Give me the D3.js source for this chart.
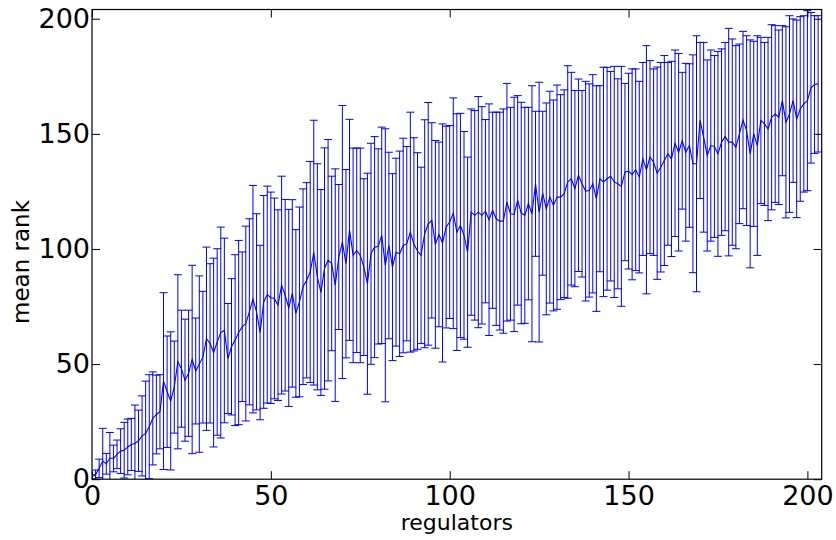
<!DOCTYPE html>
<html>
<head>
<meta charset="utf-8">
<script src="https://cdn.jsdelivr.net/npm/d3@7"></script>
<style>
  body { margin: 0; background: #fff; }
  svg { display: block; font-family: "DejaVu Sans", sans-serif; }
</style>
</head>
<body>
<svg width="836" height="540"></svg>
<script>
// mean rank of each regulator (index = regulator number)
var meanRank = [
  1, 2, 4.7, 7.9, 6.7, 9.2, 9, 10.8, 12.2, 12.6, 14, 15.1, 15.5, 16.7, 18.8, 19.9, 22.8, 26.4, 28.1, 29.3,
  42.6, 38, 34, 40, 51, 48, 43, 46, 52, 47, 50, 53, 61, 59, 55,
  59.6, 63.7, 64.6, 52.4, 57.5, 60.4, 63.7, 66.2, 67.6, 72.7, 78.2, 72.7, 63.7, 77, 80.2, 78.8, 78.5, 75.6,
  84.3, 79.9, 74.4, 80.7, 72, 77, 83.6, 86.4, 90, 98.4, 87.9, 81.1, 91.5, 95.1, 93.7, 84.3,
  96.5, 103, 93.6, 108.3, 97.2, 99.4, 97.2, 92.1, 84.9, 97.9, 100.8, 101.1, 105.9, 92.9, 101.5, 92.1, 98.6,
  97.9, 101.5, 102.3, 107.3, 102, 99.1, 97.2, 106.6, 110.9, 112.4, 102, 106.3, 102.6, 109.5, 111.7, 115.5, 107.3,
  110.2, 105.9, 98.6, 116, 114.6, 116, 114.6, 116.4, 112.7, 116.8, 113.1, 112.1, 112.1, 120.3, 115.3, 115, 121.1,
  115.6, 114.6, 119.7, 115.3, 128.3, 116, 124.2, 117.4, 122.5, 118.9, 122.5, 122.5, 124, 129.1, 130.5, 126.2, 132,
  128.3, 125.1, 125.4, 128.3, 121.9, 130.5, 129.1, 130.5, 131.6, 129.1, 128.3, 127.2, 133.4, 133.8, 132.4, 134.4, 131.2,
  139.1, 134.4, 139.9, 137.7, 132.9, 135.5, 138.4, 141.3, 139.1, 145.9, 142, 147, 142, 144.9, 137, 137, 155.8,
  148.5, 140.6, 144.9, 144.5, 141.3, 146.4, 148.8, 146.4, 146.4, 144.2, 150, 156, 151.4, 141.3, 150, 144.9, 155.8,
  154.3, 152.1, 157.2, 158.6, 157.2, 164.4, 155, 158.6, 164.4, 156.5, 160.8, 163, 164.4, 170, 171.4, 171.7
];

// standard deviation of the rank (error bar half length)
var rankSd = [
  1, 2, 4, 14.2, 4.5, 11.1, 5.8, 6.2, 9.7, 12.1, 12.1, 11.3, 16.7, 13.3, 17.4, 22.7, 22.6, 20.2, 17.1, 16.1,
  38.4, 24.2, 30, 20, 37.8, 25.4, 26.5, 27.4, 40.9, 23, 38.3, 28.6, 39.8, 34.6, 41,
  40.5, 45.8, 40.1, 23.9, 29.6, 37.1, 40, 32.5, 42.3, 40.4, 49.4, 42.6, 37.9, 46.2, 47.1, 45.9, 43.6, 41.4,
  47.3, 41.6, 42.8, 40.7, 36.4, 41.2, 42.5, 42.4, 48, 57.5, 49.1, 44.7, 52.4, 52.4, 37.9, 50.5,
  31.5, 59.3, 40.9, 48, 46.6, 44.4, 46.6, 38.4, 48, 48, 48, 42.4, 47, 59.3, 40.5, 40.6, 40.8,
  44.6, 46.6, 42.2, 52.1, 46.3, 42.7, 38.3, 49.5, 52.7, 42.4, 45.1, 40.1, 51.7, 43.8, 41.9, 50.1, 51.4,
  48.7, 45.1, 41.3, 44.8, 45.5, 50.2, 47.2, 39.8, 50.3, 42.6, 46.3, 47.3, 48.7, 51.6, 46.2, 50.9, 45.5,
  48.1, 46.9, 41.8, 55.6, 31.5, 56.4, 35.6, 46, 46, 45.8, 48.7, 44.5, 45.1, 50.5, 46.2, 42.6, 41.8,
  40.5, 47.7, 46.3, 47.4, 49, 40.4, 49.8, 48.4, 45.5, 50.2, 45.6, 52.1, 38.5, 42.5, 45.8, 43.8, 41.6,
  41.9, 53.9, 41.9, 40.5, 46.1, 45.5, 45.6, 39.7, 42.4, 40.5, 42.9, 29.7, 38.6, 35.5, 47.3, 55.6, 33.9,
  41.2, 41.5, 41.5, 39.5, 44.5, 40.5, 40.9, 49.4, 44.8, 44.1, 39, 38.5, 41.2, 49.5, 40.2, 47.7, 36.1,
  35.4, 39.8, 40.2, 38.4, 37.9, 32.6, 41.5, 42.7, 35.5, 42.9, 40.1, 38.3, 39.1, 32.7, 29.9, 29.6
];

var xTicks = [0, 50, 100, 150, 200];
var yTicks = [0, 50, 100, 150, 200];
var xLabel = "regulators";
var yLabel = "mean rank";

var svg = d3.select("svg");
var margins = { top: 9.5, bottom: 60.8, left: 92, right: 14.3 };

var svgWidth = +svg.attr("width");
var svgHeight = +svg.attr("height");
var chartWidth = svgWidth - margins.left - margins.right;
var chartHeight = svgHeight - margins.top - margins.bottom;

var data = meanRank.map(function (m, i) {
  return { x: i, mean: m, sd: rankSd[i] };
});

var xScale = d3.scaleLinear().domain([0, 204]).range([0, chartWidth]);
var yScale = d3.scaleLinear().domain([0, 204]).range([chartHeight, 0]);

var blue = "#0000ff";
var capHalf = 4;

svg.append("defs").append("clipPath").attr("id", "plot-clip")
  .append("rect").attr("width", chartWidth).attr("height", chartHeight);

var g = svg.append("g")
  .attr("transform", `translate(${margins.left}, ${margins.top})`);

var plot = g.append("g").attr("clip-path", "url(#plot-clip)");

// error bars
plot.selectAll("line.bar").data(data).enter().append("line")
  .classed("bar", true)
  .attr("x1", function (d) { return xScale(d.x); })
  .attr("x2", function (d) { return xScale(d.x); })
  .attr("y1", function (d) { return yScale(d.mean - d.sd); })
  .attr("y2", function (d) { return yScale(d.mean + d.sd); })
  .attr("stroke", blue).attr("stroke-width", 1);

// mean line
var line = d3.line()
  .x(function (d) { return xScale(d.x); })
  .y(function (d) { return yScale(d.mean); });

plot.append("path").datum(data)
  .attr("d", line)
  .attr("fill", "none").attr("stroke", blue).attr("stroke-width", 1.1);

// caps
["lo", "hi"].forEach(function (side) {
  plot.selectAll("line.cap-" + side).data(data).enter().append("line")
    .classed("cap-" + side, true)
    .attr("x1", function (d) { return xScale(d.x) - capHalf; })
    .attr("x2", function (d) { return xScale(d.x) + capHalf; })
    .attr("y1", function (d) { return yScale(side == "hi" ? d.mean + d.sd : d.mean - d.sd); })
    .attr("y2", function (d) { return yScale(side == "hi" ? d.mean + d.sd : d.mean - d.sd); })
    .attr("stroke", blue).attr("stroke-width", 1);
});

// axes, ticks pointing inward on all four sides
function styleAxis(sel) {
  sel.select(".domain").remove();
  sel.selectAll(".tick line").attr("stroke", "#000").attr("stroke-width", 1);
  sel.selectAll(".tick text")
    .attr("fill", "#000")
    .style("font-family", "'DejaVu Sans', sans-serif")
    .style("font-size", "27px");
}

g.append("g")
  .attr("transform", `translate(0, ${chartHeight})`)
  .call(d3.axisBottom(xScale).tickValues(xTicks).tickSize(-8).tickPadding(7))
  .call(styleAxis);

g.append("g")
  .call(d3.axisTop(xScale).tickValues(xTicks).tickSize(-8).tickFormat(""))
  .call(styleAxis);

g.append("g")
  .call(d3.axisLeft(yScale).tickValues(yTicks).tickSize(-8).tickPadding(2))
  .call(styleAxis);

g.append("g")
  .attr("transform", `translate(${chartWidth}, 0)`)
  .call(d3.axisRight(yScale).tickValues(yTicks).tickSize(-8).tickFormat(""))
  .call(styleAxis);

// frame
g.append("rect")
  .attr("width", chartWidth).attr("height", chartHeight)
  .attr("fill", "none").attr("stroke", "#000").attr("stroke-width", 1.2);

// axis labels
svg.append("text")
  .attr("x", margins.left + chartWidth / 2)
  .attr("y", 530)
  .attr("text-anchor", "middle")
  .style("font-size", "22px")
  .text(xLabel);

svg.append("text")
  .attr("transform", `translate(29, 262) rotate(-90)`)
  .attr("text-anchor", "middle")
  .style("font-size", "23px")
  .text(yLabel);
</script>
</body>
</html>
